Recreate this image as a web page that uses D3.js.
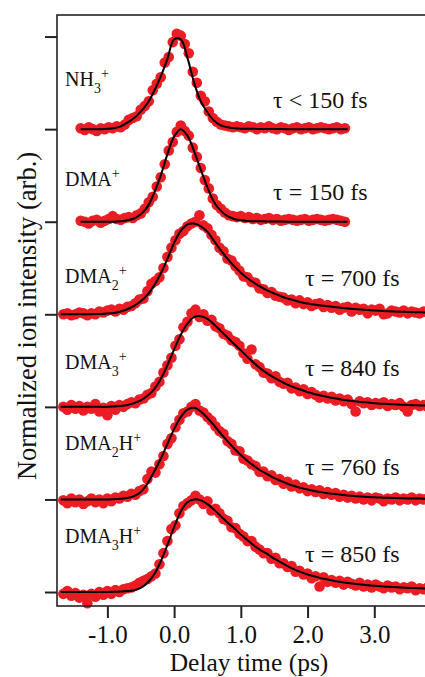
<!DOCTYPE html>
<html>
<head>
<meta charset="utf-8">
<script src="https://cdn.jsdelivr.net/npm/d3@7"></script>
<style>
  html, body { margin: 0; padding: 0; background: #fff; }
  svg { display: block; }
  text { font-family: "Liberation Serif", "Times New Roman", serif; fill: #111; }
</style>
</head>
<body>
<svg id="chart" width="425" height="677"></svg>
<script>
// ---- Data ---------------------------------------------------------------
// Ion species (top to bottom), their fitted lifetimes and vertical offsets
const species   = ["NH3+", "DMA+", "DMA2+", "DMA3+", "DMA2H+", "DMA3H+"];
const lifetimes = ["τ < 150 fs", "τ = 150 fs", "τ = 700 fs", "τ = 840 fs", "τ = 760 fs", "τ = 850 fs"];
const offsets   = [5, 4, 3, 2, 1, 0];

// x-axis tick values (ps)
const xTicks = [-1.0, 0.0, 1.0, 2.0, 3.0];
const yTicks = [0, 1, 2, 3, 4, 5, 6];

// Measured delay grid (ps): start time per trace, constant step
const signalStart = [-1.40, -1.40, -1.66, -1.66, -1.66, -1.66];
const signalStep  = 0.06;

// Normalized ion signal, one array per species
const nh3Signal = [0.01,-0.01,0.02,0.00,-0.02,0.01,0.00,0.02,0.01,0.03,0.02,0.05,0.10,0.12,0.14,0.21,0.25,0.30,0.42,0.49,
  0.56,0.72,0.78,0.94,1.03,1.01,0.92,0.82,0.62,0.50,0.36,0.30,0.19,0.12,0.08,0.05,0.04,0.03,0.02,0.03,
  0.02,0.01,0.03,0.02,0.00,0.02,0.01,0.03,0.01,0.00,0.02,0.01,-0.01,0.01,0.02,0.00,0.01,0.02,0.00,0.01,
  0.02,0.01,0.00,0.01,0.02,0.00,0.01];
const dmaSignal = [0.01,0.00,-0.02,0.01,0.02,-0.01,0.01,0.03,0.06,0.03,0.02,0.04,0.05,0.04,0.07,0.09,0.14,0.21,0.27,0.38,
  0.48,0.62,0.77,0.86,0.97,1.04,0.98,0.93,0.80,0.70,0.58,0.45,0.36,0.25,0.18,0.14,0.10,0.07,0.06,0.05,
  0.06,0.04,0.05,0.03,0.04,0.02,0.03,0.04,0.02,0.03,0.01,0.02,0.03,0.02,0.01,0.02,0.03,0.01,0.02,0.03,
  0.02,0.01,0.02,0.03,0.02,0.01,0.00];
const dma2Signal = [0.00,0.01,-0.01,0.00,0.02,0.01,-0.01,0.01,0.00,0.03,0.02,0.04,0.05,0.03,0.06,0.05,0.08,0.09,0.12,0.16,
  0.17,0.25,0.33,0.36,0.40,0.50,0.62,0.72,0.80,0.87,0.90,0.95,0.98,1.00,1.07,0.96,0.93,0.86,0.80,0.72,
  0.68,0.60,0.58,0.52,0.47,0.41,0.40,0.35,0.34,0.28,0.27,0.23,0.24,0.20,0.19,0.18,0.15,0.16,0.12,0.15,
  0.11,0.13,0.09,0.11,0.12,0.08,0.10,0.07,0.09,0.05,0.07,0.08,0.03,0.07,0.05,0.06,0.01,0.05,0.04,0.06,
  0.00,0.01,0.04,0.03,0.02,0.04,0.01,0.03,0.02,0.01,0.03,0.02];
const dma3Signal = [0.00,-0.03,0.02,-0.02,0.01,-0.04,0.00,-0.02,0.03,-0.05,-0.01,-0.09,0.01,-0.03,0.02,0.00,0.03,0.05,0.04,0.08,
  0.09,0.13,0.15,0.22,0.27,0.37,0.45,0.53,0.66,0.73,0.86,0.92,1.01,1.05,0.97,1.00,0.93,0.94,0.87,0.85,
  0.79,0.77,0.72,0.70,0.66,0.58,0.52,0.62,0.46,0.43,0.37,0.36,0.31,0.33,0.27,0.25,0.26,0.20,0.21,0.17,
  0.19,0.14,0.16,0.13,0.10,0.12,0.09,0.11,0.07,0.09,0.06,0.08,0.03,-0.05,0.06,0.04,0.05,0.02,0.04,0.03,
  0.05,0.01,0.03,0.02,0.04,0.00,-0.05,0.02,0.03,0.01,0.02,0.00];
const dma2hSignal = [-0.01,-0.04,0.01,-0.03,0.00,-0.05,-0.02,0.01,-0.03,0.00,-0.04,0.01,-0.02,0.02,0.01,0.04,0.03,0.06,0.05,0.09,
  0.11,0.22,0.30,0.29,0.38,0.47,0.60,0.66,0.78,0.86,0.93,0.95,1.00,1.03,0.96,0.94,0.89,0.85,0.79,0.74,
  0.71,0.63,0.60,0.53,0.52,0.44,0.42,0.38,0.36,0.30,0.30,0.25,0.26,0.21,0.22,0.17,0.19,0.14,0.16,0.12,
  0.13,0.09,0.11,0.08,0.10,0.06,0.08,0.05,0.07,0.03,0.05,0.02,0.04,0.01,0.03,0.00,0.02,-0.01,0.02,0.01,
  -0.02,0.01,0.00,0.02,-0.01,0.01,0.00,0.02,-0.01,0.01,0.00,0.01];
const dma3hSignal = [-0.02,0.01,-0.04,-0.01,-0.06,-0.03,-0.12,-0.02,-0.05,0.00,-0.03,0.01,-0.02,0.02,0.00,0.03,0.04,0.05,0.07,0.10,
  0.12,0.14,0.17,0.20,0.30,0.42,0.55,0.68,0.72,0.85,0.93,0.96,0.99,1.04,1.00,0.95,0.98,0.88,0.90,0.85,
  0.79,0.77,0.70,0.69,0.63,0.60,0.55,0.55,0.49,0.46,0.42,0.42,0.36,0.37,0.31,0.31,0.27,0.28,0.22,0.23,
  0.19,0.20,0.15,0.17,0.06,0.16,0.11,0.13,0.10,0.12,0.08,0.11,0.09,0.07,0.10,0.06,0.08,0.05,0.08,0.06,
  0.04,0.07,0.05,0.06,0.03,0.05,0.04,0.06,0.02,0.04,0.03,0.05];

// Fitted curves, sampled every 0.1 ps
const fitStart = [-1.4, -1.4, -1.7, -1.7, -1.7, -1.7];
const fitStep  = 0.1;
const nh3Fit = [0,0,0,0,0.003,0.01,0.03,0.07,0.12,0.19,0.28,0.41,0.57,0.76,0.97,0.97,0.77,0.5,0.3,0.18,
  0.09,0.04,0.02,0.01,0.005,0.004,0.003,0.002,0.002,0.001,0.001,0,0,0,0,0,0,0,0,0,0];
const dmaFit = [0,0,0,0,0,0,0.005,0.015,0.035,0.08,0.16,0.31,0.5,0.73,0.92,1.0,0.93,0.76,0.56,0.37,
  0.21,0.12,0.06,0.03,0.015,0.008,0.005,0.004,0.003,0.002,0.002,0.001,0.001,0,0,0,0,0,0,0,0];
const dma2Fit = [0,0,0,0,0,0.002,0.004,0.008,0.015,0.03,0.055,0.09,0.14,0.21,0.31,0.44,0.6,0.77,0.9,0.97,
  0.98,0.95,0.89,0.79,0.69,0.6,0.52,0.45,0.39,0.34,0.295,0.255,0.225,0.195,0.17,0.15,0.13,0.117,0.105,0.095,
  0.086,0.078,0.07,0.063,0.057,0.051,0.046,0.042,0.038,0.034,0.031,0.028,0.025,0.023,0.021,0.019];
const dma3Fit = [0,0,0,0,0,0,0,0,0.005,0.01,0.02,0.04,0.07,0.12,0.19,0.3,0.45,0.62,0.78,0.9,
  0.97,0.98,0.95,0.89,0.82,0.75,0.68,0.61,0.54,0.47,0.41,0.36,0.315,0.275,0.24,0.21,0.185,0.16,0.14,0.122,
  0.106,0.092,0.08,0.07,0.061,0.053,0.046,0.04,0.035,0.031,0.027,0.024,0.021,0.018,0.016,0.014];
const dma2hFit = [0,0,0,0,0,0,0,0,0.003,0.007,0.015,0.035,0.08,0.17,0.3,0.44,0.6,0.76,0.89,0.97,
  0.99,0.95,0.88,0.8,0.71,0.63,0.55,0.48,0.415,0.36,0.31,0.27,0.23,0.2,0.17,0.145,0.125,0.107,0.092,0.079,
  0.068,0.058,0.05,0.043,0.037,0.032,0.027,0.023,0.02,0.017,0.015,0.013,0.011,0.01,0.009,0.008];
const dma3hFit = [0,0,0,0,0,0,0,0,0.002,0.005,0.01,0.02,0.045,0.1,0.19,0.33,0.51,0.7,0.87,0.97,
  1.0,0.99,0.95,0.89,0.82,0.75,0.69,0.62,0.56,0.5,0.45,0.41,0.36,0.32,0.28,0.245,0.215,0.19,0.17,0.15,
  0.135,0.12,0.108,0.098,0.089,0.081,0.074,0.068,0.062,0.057,0.053,0.049,0.046,0.043,0.04,0.038];

const signals = [nh3Signal, dmaSignal, dma2Signal, dma3Signal, dma2hSignal, dma3hSignal];
const fits    = [nh3Fit, dmaFit, dma2Fit, dma3Fit, dma2hFit, dma3hFit];

// ---- Layout -------------------------------------------------------------
const svg = d3.select("#chart");
const plot = { left: 57, right: 427, top: 15, bottom: 606 };

const x = d3.scaleLinear().domain([-1.755, 3.79]).range([plot.left, plot.right]);
const y = d3.scaleLinear().domain([-0.151, 6.233]).range([plot.bottom, plot.top]);

const RED = "#ec1c24";

// Label placement (per species)
const nameLayout = [
  { x: 65, y: 86,  parts: [["NH"], ["3", "sub"], ["+", "sup"]] },
  { x: 65, y: 186, parts: [["DMA"], ["+", "sup"]] },
  { x: 65, y: 283, parts: [["DMA"], ["2", "sub"], ["+", "sup"]] },
  { x: 65, y: 369, parts: [["DMA"], ["3", "sub"], ["+", "sup"]] },
  { x: 65, y: 450, parts: [["DMA"], ["2", "sub"], ["H"], ["+", "sup"]] },
  { x: 65, y: 543, parts: [["DMA"], ["3", "sub"], ["H"], ["+", "sup"]] }
];
const tauLayout = [
  { x: 273, y: 108 }, { x: 273, y: 200 }, { x: 305, y: 286 },
  { x: 305, y: 376 }, { x: 305, y: 475 }, { x: 305, y: 562 }
];

// ---- Traces: measured points, then fitted curves on top ----------------
const traces = svg.append("g");

species.forEach((name, k) => {
  const off = offsets[k];
  const pts = signals[k].map((v, i) => ({ t: signalStart[k] + i * signalStep, v }));
  traces.append("g")
    .attr("class", "trace")
    .selectAll("circle")
    .data(pts)
    .join("circle")
    .attr("cx", d => x(d.t))
    .attr("cy", d => y(d.v + off))
    .attr("r", 5.3)
    .attr("fill", RED);
});

species.forEach((name, k) => {
  const off = offsets[k];
  const fit = fits[k].map((v, i) => ({ t: fitStart[k] + i * fitStep, v }));
  const line = d3.line()
    .x(d => x(d.t))
    .y(d => y(d.v + off))
    .curve(d3.curveCatmullRom.alpha(0.5));
  traces.append("path")
    .datum(fit)
    .attr("d", line)
    .attr("fill", "none")
    .attr("stroke", "#000")
    .attr("stroke-width", 2);
});

// ---- Frame & axes -------------------------------------------------------
svg.append("rect")
  .attr("x", plot.left).attr("y", plot.top)
  .attr("width", plot.right - plot.left + 10)
  .attr("height", plot.bottom - plot.top)
  .attr("fill", "none")
  .attr("stroke", "#222")
  .attr("stroke-width", 1.6);

const xAxis = svg.append("g")
  .attr("transform", `translate(0,${plot.bottom})`)
  .call(d3.axisBottom(x).tickValues(xTicks).tickSize(12).tickSizeOuter(0)
        .tickFormat(d => d.toFixed(1)));
xAxis.select(".domain").remove();
xAxis.selectAll(".tick line").attr("stroke", "#222").attr("stroke-width", 2);
xAxis.selectAll(".tick text")
  .attr("y", 37).attr("dy", null)
  .attr("fill", "#111")
  .style("font-family", '"Liberation Serif", "Times New Roman", serif')
  .style("font-size", "25px");

const yAxis = svg.append("g")
  .attr("transform", `translate(${plot.left},0)`)
  .call(d3.axisLeft(y).tickValues(yTicks).tickSize(12).tickSizeOuter(0).tickFormat(""));
yAxis.select(".domain").remove();
yAxis.selectAll(".tick line").attr("stroke", "#222").attr("stroke-width", 2);

// Axis titles
svg.append("text")
  .attr("x", 249).attr("y", 671)
  .attr("text-anchor", "middle")
  .style("font-size", "25.5px")
  .text("Delay time (ps)");

svg.append("text")
  .attr("transform", "translate(36,316) rotate(-90)")
  .attr("text-anchor", "middle")
  .style("font-size", "26.5px")
  .text("Normalized ion intensity (arb.)");

// ---- Species and lifetime labels ---------------------------------------
species.forEach((name, k) => {
  const L = nameLayout[k];
  const t = svg.append("text")
    .attr("x", L.x).attr("y", L.y)
    .style("font-size", "20px");
  let shift = 0;
  L.parts.forEach(([s, kind]) => {
    let target = 0, size = 20;
    if (kind === "sub") { target = 7; size = 14; }
    if (kind === "sup") { target = -8; size = 14; }
    t.append("tspan")
      .attr("dy", target - shift)
      .style("font-size", size + "px")
      .text(s);
    shift = target;
  });

  svg.append("text")
    .attr("x", tauLayout[k].x).attr("y", tauLayout[k].y)
    .style("font-size", "24px")
    .text(lifetimes[k]);
});
</script>
</body>
</html>
